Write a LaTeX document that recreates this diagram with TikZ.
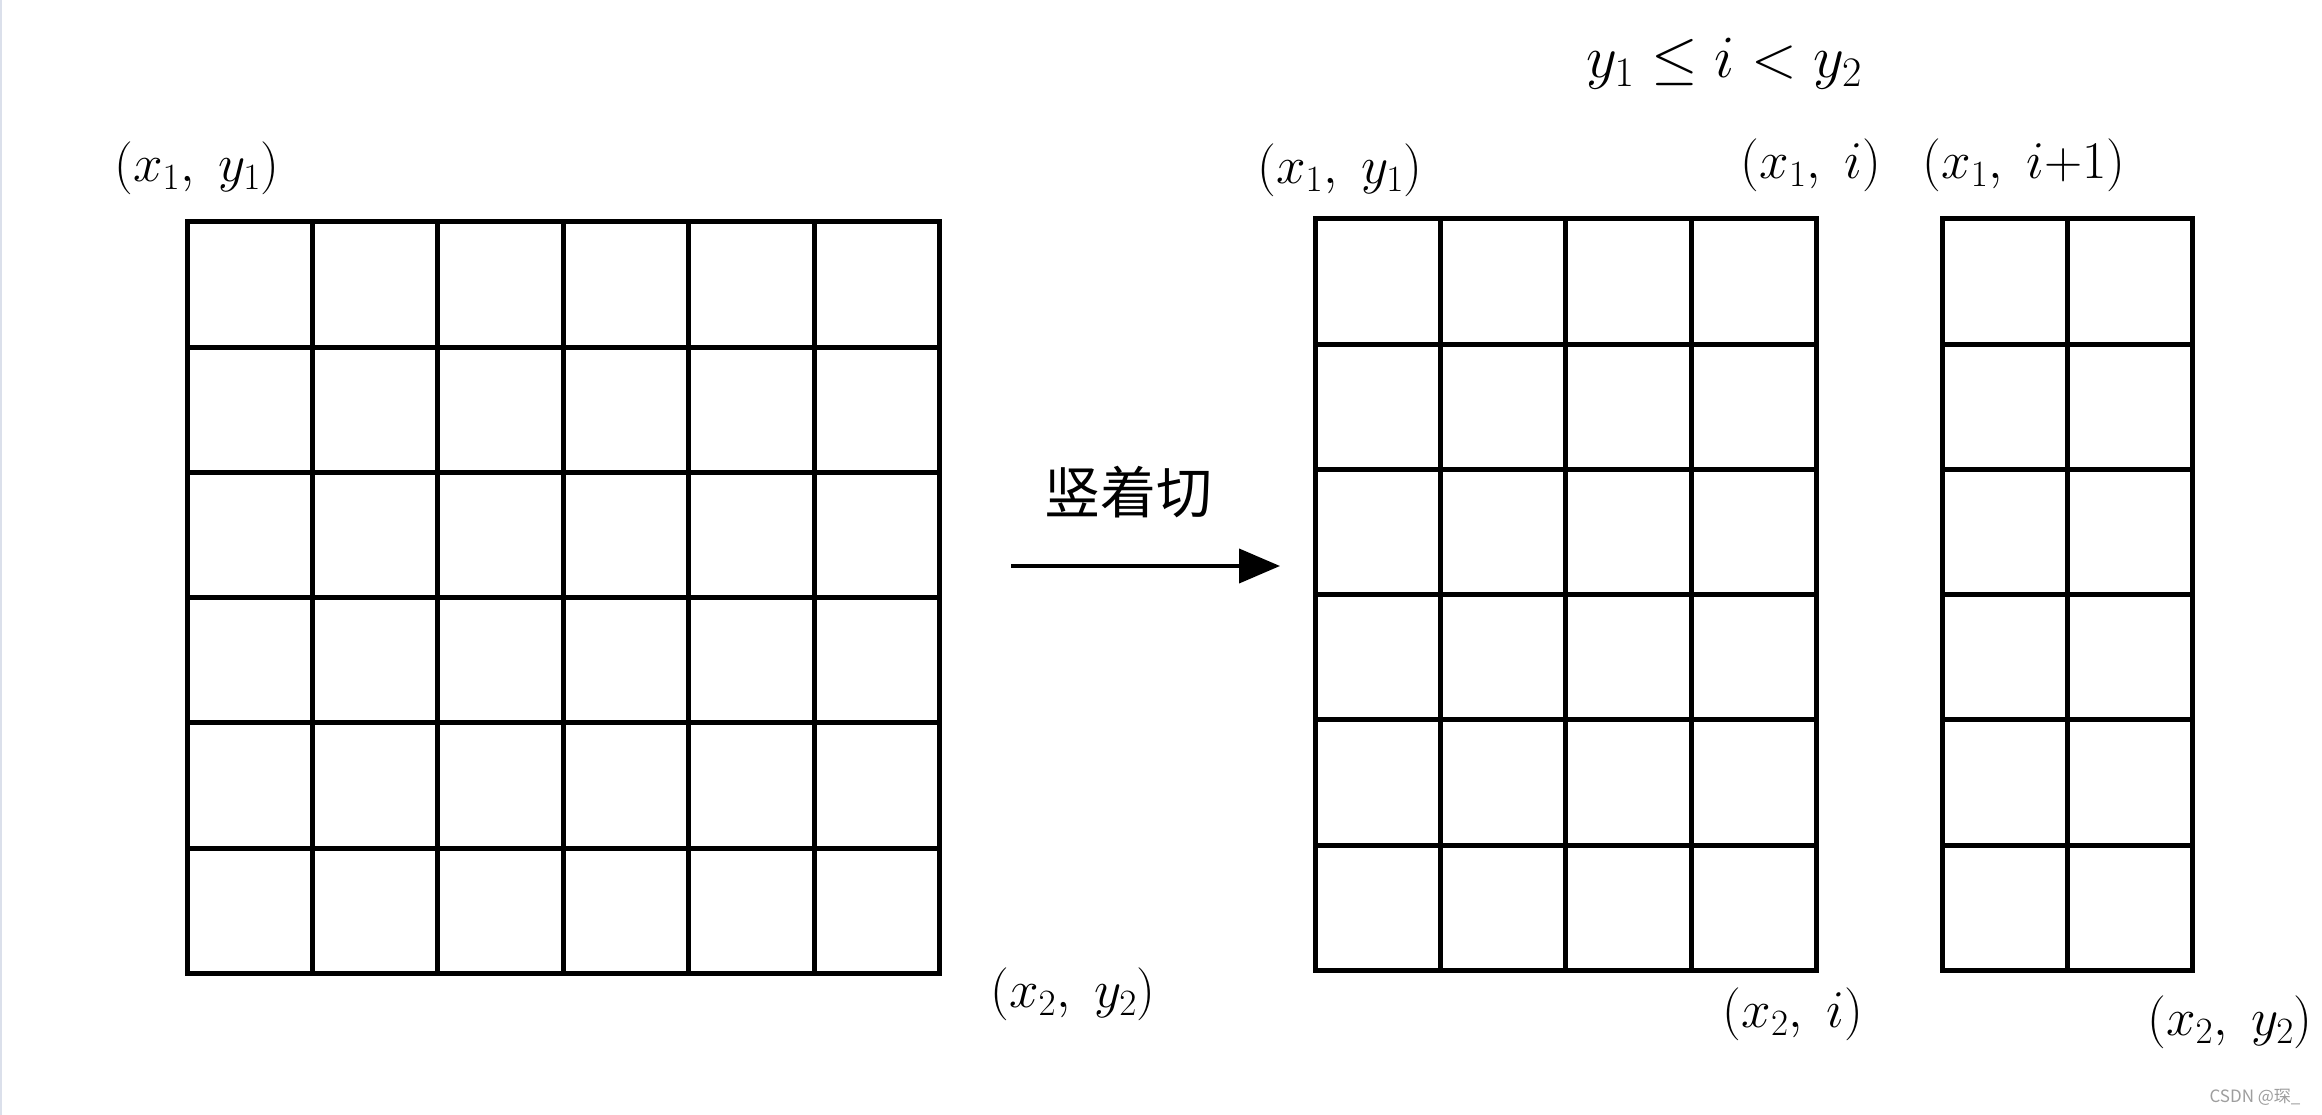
\RequirePackage{fix-cm}
\documentclass[tikz,border=0pt]{standalone}
\usepackage{fontspec}
\usepackage{amsmath}
\newfontfamily\cjkfont{Noto Sans CJK SC}
\usetikzlibrary{positioning, arrows.meta, calc}
\tikzset{gridline/.style={line width=5pt, line cap=rect}}
\tikzset{coordlabel/.style={font=\fontsize{53}{57}\selectfont, inner sep=0pt}}
\tikzset{cutarrow/.style={-{Triangle[length=41pt, width=34pt]}, line width=4pt}}
\definecolor{markgray}{rgb}{0.62, 0.62, 0.62}
\definecolor{edgegray}{rgb}{0.86, 0.88, 0.92}

\begin{document}
\begin{tikzpicture}[x=1pt, y=-1pt]
    \useasboundingbox[fill=white] (0,0) rectangle (2322,1115);
    \draw[line width=2pt, edgegray] (1,0) -- (1,1115);

    % the three blocks of cells
    \foreach \ox/\oy/\nc in {187/222/6, 1315/219/4, 1942/219/2}{
        \foreach \c in {0,...,\nc}
            \draw[gridline] (\ox+\c*125.4, \oy) -- (\ox+\c*125.4, \oy+751.2);
        \foreach \r in {0,...,6}
            \draw[gridline] (\ox, \oy+\r*125.2) -- (\ox+\nc*125.4, \oy+\r*125.2);
    }

    \node[coordlabel] (LNW) at (197,168) {$(x_1,\;y_1)$};
    \node[coordlabel] (LSE) at (1073,994) {$(x_2,\;y_2)$};

    \node[coordlabel, font=\fontsize{60}{64}\selectfont] (Cond) at (1724,64) {$y_1 \le i < y_2$};
    \node[coordlabel] (MNW) at (1340,170) {$(x_1,\;y_1)$};
    \node[coordlabel] (MNE) at (1811,165) {$(x_1,\;i)$};
    \node[coordlabel] (MSE) at (1793,1014) {$(x_2,\;i)$};
    \node[coordlabel] (RNW) at (2024,165) {$(x_1,\;i{+}1)$};
    \node[coordlabel] (RSE) at (2230,1022) {$(x_2,\;y_2)$};

    \coordinate (CutA) at (1011,566);
    \coordinate (CutB) at (1280,566);
    \draw[cutarrow] (CutA) -- (CutB);
    \node[font=\cjkfont\fontsize{56}{60}\selectfont, inner sep=0pt] (CutText) at (1128,492) {竖着切};

    \node[font=\cjkfont\fontsize{17}{19}\selectfont, markgray, inner sep=0pt] (Mark) at (2255,1097) {CSDN @琛\_};
\end{tikzpicture}
\end{document}
